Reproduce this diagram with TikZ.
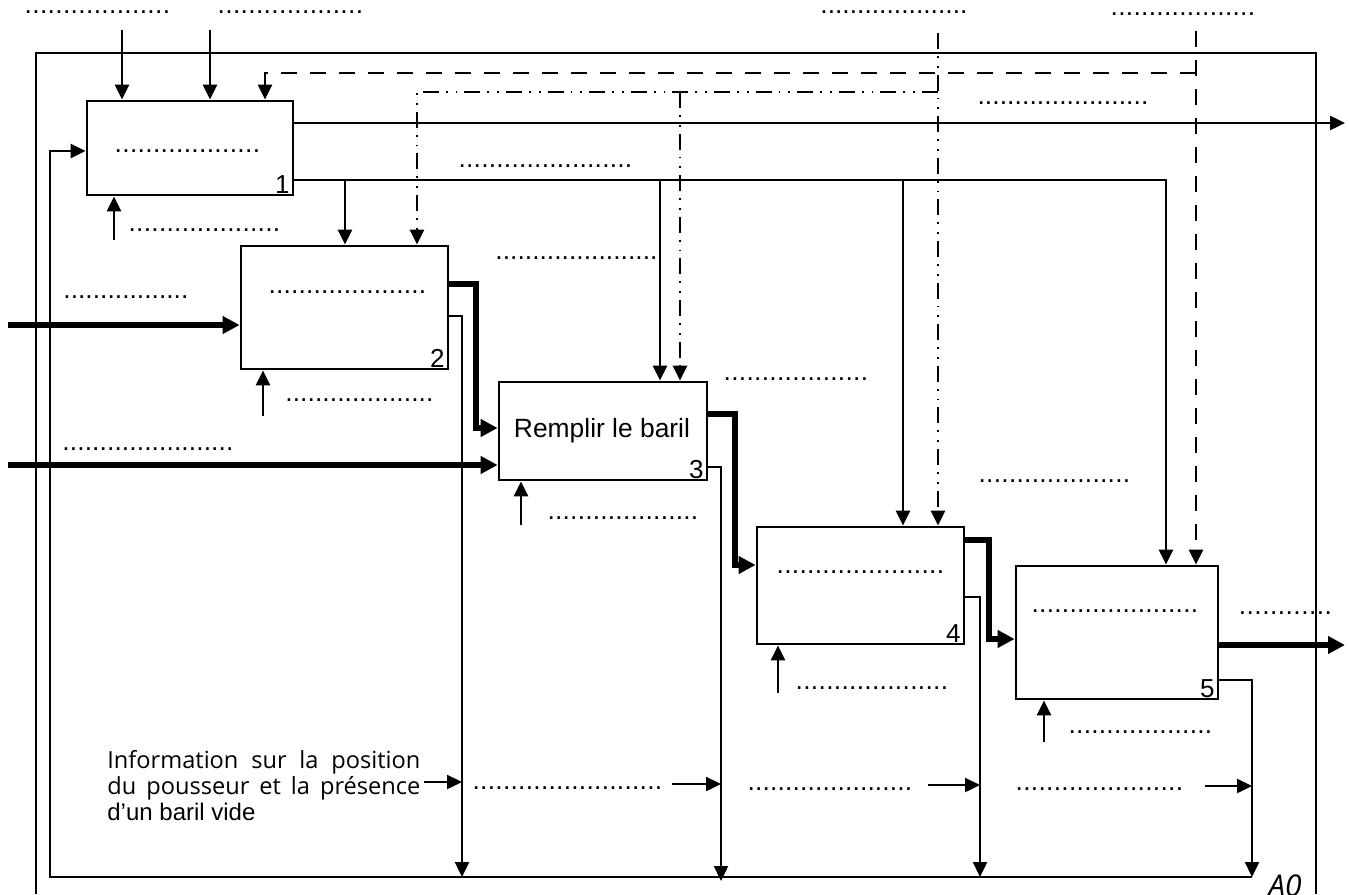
\documentclass[tikz,border=0pt]{standalone}
\usepackage{fontspec}
\setmainfont{Liberation Sans}
\newfontfamily\comic{Open Sans}
\usetikzlibrary{arrows.meta}
\newcommand\labfont{\fontsize{13.2}{15}\selectfont}
\newcommand\dl[1]{\hbox to #1{\xleaders\hbox to 3.67pt{\hss.\hss}\hfill}}
\begin{document}
\begin{tikzpicture}[x=0.5pt,y=-0.5pt,
  box/.style={draw,line width=1.4pt,inner sep=0pt,fill=white},
  ln/.style={line width=1.2pt},
  arr/.style={ln,-{Triangle[length=7.5pt,width=7pt]}},
  thk/.style={line width=3pt,-{Triangle[length=8.5pt,width=8.5pt]}},
  dsh/.style={dash pattern=on 8pt off 6.5pt},
  dd/.style={dash pattern=on 8pt off 3.5pt on 0.9pt off 4pt on 0.9pt off 3.5pt},
  lab/.style={inner sep=0pt,anchor=base west,font=\labfont},
  num/.style={inner xsep=2.2pt,inner ysep=1.2pt,anchor=south east,font=\fontsize{13}{15}\selectfont},
  framestyle/.style={line width=1.2pt}]
\useasboundingbox (0,0) rectangle (1349,894);

% frame
\draw[framestyle] (36,894) -- (36,53) -- (1316,53) -- (1316,894);

% boxes
\node[box,minimum width=103pt,minimum height=47pt] (b1) at (190,148) {};
\node[box,minimum width=103.5pt,minimum height=61.5pt] (b2) at (344.5,307.5) {};
\node[box,minimum width=104pt,minimum height=49pt] (b3) at (603,431) {};
\node[box,minimum width=103.5pt,minimum height=58.5pt] (b4) at (860.5,585.5) {};
\node[box,minimum width=101pt,minimum height=66.5pt] (b5) at (1117,632.5) {};

\node[num] (n1) at (b1.south east) {1};
\node[num] (n2) at (b2.south east) {2};
\node[num] (n3) at (b3.south east) {3};
\node[num] (n4) at (b4.south east) {4};
\node[num] (n5) at (b5.south east) {5};

\node[font=\labfont,inner sep=0pt] (tx3) at (602,431) {Remplir le baril};
\node[lab] (in1) at (114,152) {\dl{73pt}};
\node[lab] (in2) at (268,293) {\dl{79pt}};
\node[lab] (in4) at (776,573) {\dl{84pt}};
\node[lab] (in5) at (1031,612) {\dl{83.5pt}};

% dotted labels
\node[lab] (la1) at (24,13) {\dl{73pt}};
\node[lab] (la2) at (217,13) {\dl{73pt}};
\node[lab] (la3) at (820,13) {\dl{73.5pt}};
\node[lab] (la4) at (1110,15) {\dl{72.5pt}};
\node[lab] (m1) at (128,231) {\dl{76pt}};
\node[lab] (o1) at (977,104) {\dl{85.5pt}};
\node[lab] (c1) at (458,167) {\dl{87pt}};
\node[lab] (i2) at (63,298) {\dl{62.5pt}};
\node[lab] (o2) at (495,259) {\dl{81pt}};
\node[lab] (m2) at (285,401) {\dl{74pt}};
\node[lab] (i3) at (62,450) {\dl{85.5pt}};
\node[lab] (o3) at (723,380) {\dl{72.5pt}};
\node[lab] (m3) at (547,519) {\dl{75.5pt}};
\node[lab] (o4) at (978,482) {\dl{76pt}};
\node[lab] (m4) at (795,689) {\dl{76.5pt}};
\node[lab] (o5) at (1238,614) {\dl{47pt}};
\node[lab] (m5) at (1068,733) {\dl{72pt}};
\node[lab] (f2) at (472,789) {\dl{95pt}};
\node[lab] (f3) at (747,790) {\dl{82.5pt}};
\node[lab] (f4) at (1015,790) {\dl{84pt}};

% info text
\node[inner sep=0pt,anchor=base west] (info1) at (107,768)
  {\comic\fontsize{11.8}{13}\selectfont\hbox to 156.5pt{Information\hfill sur\hfill la\hfill position}};
\node[inner sep=0pt,anchor=base west] (info2) at (107,794)
  {\comic\fontsize{11.8}{13}\selectfont\hbox to 156.5pt{du\hfill pousseur\hfill et\hfill la\hfill présence}};
\node[inner sep=0pt,anchor=base west] (info3) at (107,820)
  {\fontsize{12}{14}\selectfont d’un baril vide};
\node[inner sep=0pt,anchor=north west,font=\comic\itshape\fontsize{15}{18}\selectfont] (a0) at (1268,874) {A0};

% top controls
\coordinate (t1) at (122,30);
\coordinate (t2) at (210,30);
\draw[arr] (t1) -- (b1.north -| t1);
\draw[arr] (t2) -- (b1.north -| t2);
\coordinate (t3) at (938,33);
\coordinate (j3) at (938,92);
\coordinate (j3b) at (680,92);
\draw[arr,dd] (t3) -- (b4.north -| t3);
\draw[arr,dd] (j3) -| (b2.north -| 417,0);
\draw[arr,dd] (j3b) -- (b3.north -| j3b);
\coordinate (t4) at (1196,31);
\coordinate (j4) at (1196,73);
\draw[arr,dsh] (t4) -- (b5.north -| t4);
\draw[arr,dsh] (j4) -| (b1.north -| 265,0);

% box 1 outputs
\coordinate (e1) at (1345,123);
\draw[arr] (b1.east |- e1) -- (e1);
\coordinate (r1) at (293,180);
\draw[arr] (b1.east |- r1) -| (b5.north -| 1166,0);
\draw[arr] (345,180) -- (b2.north -| 345,0);
\draw[arr] (660,180) -- (b3.north -| 660,0);
\draw[arr] (903,180) -- (b4.north -| 903,0);

% mechanisms
\draw[arr] (114,240) -- (b1.south -| 114,0);
\draw[arr] (263,416) -- (b2.south -| 263,0);
\draw[arr] (521,525) -- (b3.south -| 521,0);
\draw[arr] (778,693) -- (b4.south -| 778,0);
\draw[arr] (1044,742) -- (b5.south -| 1044,0);

% thick inputs
\coordinate (s2) at (8,325);
\coordinate (s3) at (8,465);
\draw[thk] (s2) -- (b2.west |- s2);
\draw[thk] (s3) -- (b3.west |- s3);

% thick chain outputs
\draw[thk] (b2.east |- 0,284) -| (476,428) -- (b3.west |- 0,428);
\draw[thk] (b3.east |- 0,414) -| (735,565) -- (b4.west |- 0,565);
\draw[thk] (b4.east |- 0,540) -| (989,639) -- (b5.west |- 0,639);
\coordinate (e5) at (1345,645);
\draw[thk] (b5.east |- e5) -- (e5);

% thin feedback outputs
\draw[arr] (b2.east |- 0,316) -| (462,877);
\draw[arr] (b3.east |- 0,467) -| (721,881);
\draw[arr] (b4.east |- 0,597) -| (980,877);
\draw[arr] (b5.east |- 0,680) -| (1252,877);
\draw[arr] (1252,877) -| (50,151) -- (b1.west |- 0,151);

% info arrows
\draw[arr] (424,782) -- (462,782);
\draw[arr] (672,784) -- (721,784);
\draw[arr] (928,785) -- (980,785);
\draw[arr] (1205,786) -- (1252,786);
\end{tikzpicture}
\end{document}
